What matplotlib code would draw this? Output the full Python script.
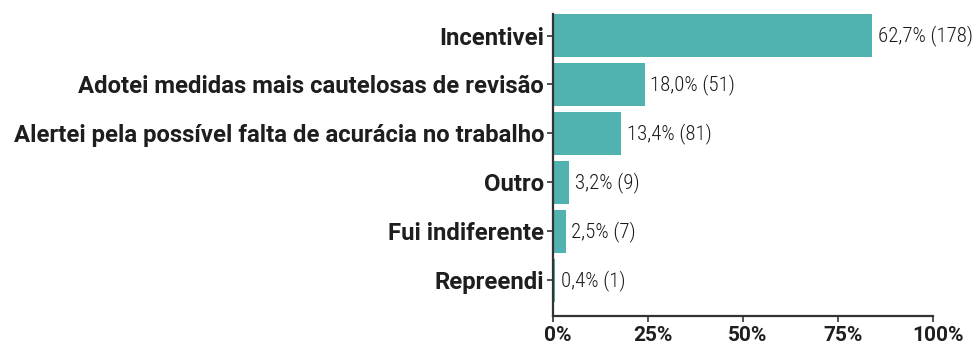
import matplotlib.pyplot as plt
import matplotlib.transforms as mtransforms
from matplotlib.ticker import FuncFormatter

# respostas por opção (rótulos como aparecem no formulário)
categorias = ['Incentivei',
              'Adotei medidas mais cautelosas de revisão',
              'Alertei pela possível falta de acurácia no trabalho',
              'Outro',
              'Fui indiferente',
              'Repreendi']
pct_respostas = [62.7, 18.0, 13.4, 3.2, 2.5, 0.4]
contagens = [178, 51, 81, 9, 7, 1]

# barras em % de respondentes (284 respostas de 212 pessoas)
total_respostas = 284
respondentes = 212
pct_respondentes = [p * total_respostas / respondentes for p in pct_respostas]

cor = '#51b3af'
texto = '#1e1e1e'
eixo = '#333333'

plt.rcParams['font.family'] = ['Roboto', 'DejaVu Sans']

fig = plt.figure(figsize=(9.74, 3.46), dpi=100)
ax = fig.add_axes([0.5678, 0.0867, 0.3901, 0.8728])

y = list(range(len(categorias)))
ax.barh(y, pct_respondentes, height=0.88, color=cor)

for yi, w, p, n in zip(y, pct_respondentes, pct_respostas, contagens):
    rotulo = f'{p:.1f}%'.replace('.', ',') + f' ({n})'
    ax.annotate(rotulo, (w, yi), xytext=(4, 0), textcoords='offset points',
                va='center', ha='left', fontsize=15, fontweight=300,
                family=['Roboto Condensed', 'DejaVu Sans'], color='#1a1a1a')

ax.set_xlim(0, 100)
ax.set_ylim(5.73, -0.44)
ax.set_xticks([0, 25, 50, 75, 100])
ax.xaxis.set_major_formatter(FuncFormatter(lambda v, _: f'{v:.0f}%'))
ax.set_yticks(y)
ax.set_yticklabels(categorias)

for s in ['top', 'right']:
    ax.spines[s].set_visible(False)
for s in ['left', 'bottom']:
    ax.spines[s].set_color(eixo)
    ax.spines[s].set_linewidth(1.6)

ax.tick_params(axis='both', colors=eixo, width=1.2, length=4.5)
ax.tick_params(axis='y', pad=2, labelsize=17.2, labelcolor=texto)
ax.tick_params(axis='x', pad=3, labelsize=15, labelcolor=texto)
for t in ax.get_yticklabels():
    t.set_fontweight('bold')
desloc = mtransforms.ScaledTranslation(5 / 100, 0, fig.dpi_scale_trans)
for t in ax.get_xticklabels():
    t.set_fontweight('bold')
    t.set_transform(t.get_transform() + desloc)

fig.savefig('out.png', dpi=100)
